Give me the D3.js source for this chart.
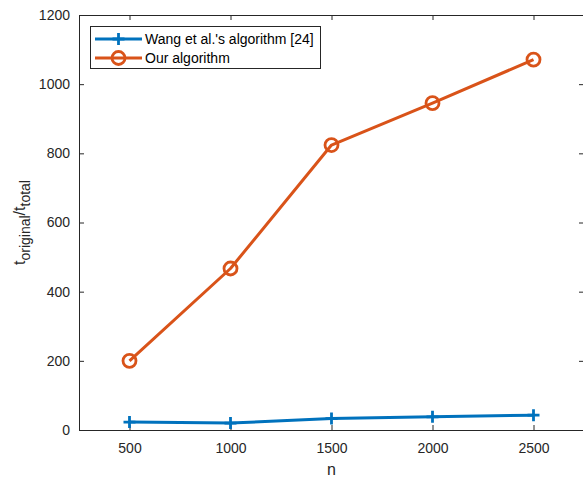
<!DOCTYPE html>
<html>
<head>
<meta charset="utf-8">
<script src="https://cdn.jsdelivr.net/npm/d3@7"></script>
<style>
  body { margin: 0; background: #fff; }
  svg { display: block; font-family: "Liberation Sans", Arial, Helvetica, sans-serif; }
</style>
</head>
<body>
<svg id="chart" width="583" height="479"></svg>
<script>
// data
var nValues = [500, 1000, 1500, 2000, 2500];
var wangValues = [23, 20, 33, 38, 43];
var ourValues = [200, 467, 824, 945, 1071];
var yTicks = [0, 200, 400, 600, 800, 1000, 1200];
var seriesNames = ["Wang et al.'s algorithm [24]", "Our algorithm"];

var svg = d3.select("#chart"),
    axisColor = "#262626",
    blue = "#0072BD",
    orange = "#D95319";

// plot box (note: "top" is taken by window.top)
var pLeft = 79, pRight = 584, pTop = 15, pBottom = 430;

var x = d3.scaleLinear().domain([250, 2750]).range([pLeft, pRight]);
var y = d3.scaleLinear().domain([0, 1200]).range([pBottom, pTop]);
var fmt = d3.format("d");

// axes (box with inward ticks, like matlab)
var gx = svg.append("g").attr("transform", "translate(0," + pBottom + ")")
    .call(d3.axisBottom(x).tickValues(nValues).tickFormat(fmt).tickSizeInner(-5).tickSizeOuter(0).tickPadding(13));
var gy = svg.append("g").attr("transform", "translate(" + pLeft + ",0)")
    .call(d3.axisLeft(y).tickValues(yTicks).tickFormat(fmt).tickSizeInner(-5).tickSizeOuter(0).tickPadding(9));
var gxt = svg.append("g").attr("transform", "translate(0," + pTop + ")")
    .call(d3.axisTop(x).tickValues(nValues).tickSizeInner(-5).tickSizeOuter(0).tickFormat(""));
var gyr = svg.append("g").attr("transform", "translate(" + pRight + ",0)")
    .call(d3.axisRight(y).tickValues(yTicks).tickSizeInner(-5).tickSizeOuter(0).tickFormat(""));

[gx, gy, gxt, gyr].forEach(function(g) {
  g.select(".domain").attr("stroke", axisColor).attr("stroke-width", 1);
  g.selectAll(".tick line").attr("stroke", axisColor);
  g.selectAll(".tick text").attr("fill", axisColor).style("font-size", "14px")
    .style("font-family", "'Liberation Sans', Arial, sans-serif");
});

// axis labels
svg.append("text")
    .attr("x", (pLeft + pRight) / 2)
    .attr("y", 475)
    .attr("text-anchor", "middle")
    .attr("fill", axisColor)
    .style("font-size", "16px")
    .text("n");

var ylab = svg.append("text")
    .attr("transform", "translate(25," + ((pTop + pBottom) / 2) + ") rotate(-90)")
    .attr("text-anchor", "middle")
    .attr("fill", axisColor)
    .style("font-size", "16px");
ylab.append("tspan").text("t");
ylab.append("tspan").attr("dy", 5).style("font-size", "14px").text("original");
ylab.append("tspan").attr("dy", -5).text("/t");
ylab.append("tspan").attr("dy", 5).style("font-size", "14px").text("total");

// series
var line = d3.line()
    .x(function(d) { return x(d.n); })
    .y(function(d) { return y(d.v); });

function toPoints(vals) {
  return vals.map(function(v, i) { return {n: nValues[i], v: v}; });
}

var wang = toPoints(wangValues),
    ours = toPoints(ourValues);

function plusPath(cx, cy, s) {
  return "M" + (cx - s) + "," + cy + "H" + (cx + s) + "M" + cx + "," + (cy - s) + "V" + (cy + s);
}

svg.append("path").datum(wang)
    .attr("d", line).attr("fill", "none")
    .attr("stroke", blue).attr("stroke-width", 3).attr("stroke-linejoin", "round");
svg.append("g").selectAll("path").data(wang).enter().append("path")
    .attr("d", function(d) { return plusPath(x(d.n), y(d.v), 6); })
    .attr("stroke", blue).attr("stroke-width", 2.8);

svg.append("path").datum(ours)
    .attr("d", line).attr("fill", "none")
    .attr("stroke", orange).attr("stroke-width", 3).attr("stroke-linejoin", "round");
svg.append("g").selectAll("circle").data(ours).enter().append("circle")
    .attr("cx", function(d) { return x(d.n); })
    .attr("cy", function(d) { return y(d.v); })
    .attr("r", 6.5)
    .attr("fill", "none")
    .attr("stroke", orange).attr("stroke-width", 2.8);

// legend
var legend = svg.append("g");
legend.append("rect")
    .attr("x", 90.5).attr("y", 26.5).attr("width", 230).attr("height", 42)
    .attr("fill", "#fff").attr("stroke", axisColor).attr("stroke-width", 1);

var rows = [
  {name: seriesNames[0], color: blue, marker: "plus", cy: 39},
  {name: seriesNames[1], color: orange, marker: "circle", cy: 58}
];
rows.forEach(function(r) {
  legend.append("line")
      .attr("x1", 95).attr("x2", 142).attr("y1", r.cy).attr("y2", r.cy)
      .attr("stroke", r.color).attr("stroke-width", 3);
  if (r.marker == "plus") {
    legend.append("path").attr("d", plusPath(118.5, r.cy, 6))
        .attr("stroke", r.color).attr("stroke-width", 2.8);
  } else {
    legend.append("circle").attr("cx", 118.5).attr("cy", r.cy).attr("r", 6.5)
        .attr("fill", "none").attr("stroke", r.color).attr("stroke-width", 2.8);
  }
  legend.append("text")
      .attr("x", 145).attr("y", r.cy + 5)
      .attr("fill", "#000")
      .style("font-size", "14px")
      .text(r.name);
});
</script>
</body>
</html>
